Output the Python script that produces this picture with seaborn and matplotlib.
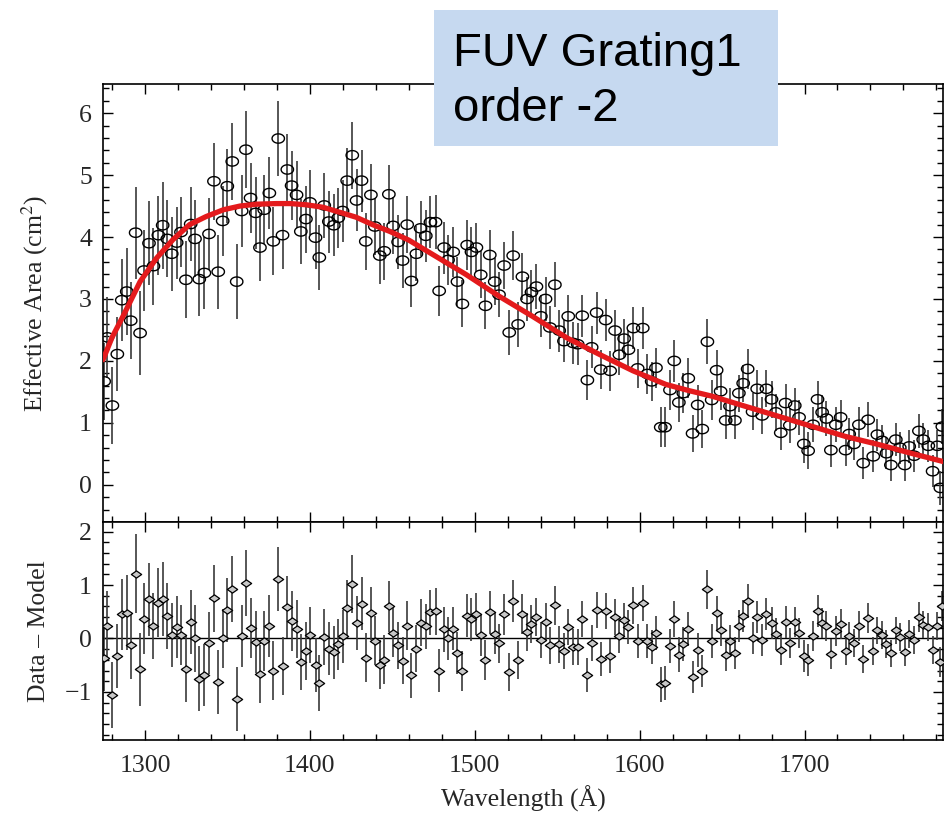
import numpy as np
import pandas as pd
import matplotlib
matplotlib.use("Agg")
import matplotlib.pyplot as plt
from matplotlib.path import Path
from matplotlib.patches import Rectangle
from matplotlib.ticker import MultipleLocator
import seaborn as sns

# ---- measured effective area, FUV grating 1, order -2 ----
wavelength = [
    1275.2, 1277.2, 1280.2, 1283.2, 1285.9, 1288.9, 1291.3, 1294.3, 1297.0, 1299.4,
    1302.4, 1305.1, 1308.1, 1310.7, 1313.5, 1316.2, 1319.2, 1321.8, 1324.8, 1327.7,
    1330.3, 1332.9, 1336.0, 1338.8, 1341.8, 1344.4, 1347.1, 1349.9, 1352.9, 1355.6,
    1358.6, 1361.2, 1364.0, 1367.1, 1369.7, 1372.3, 1375.4, 1377.8, 1380.8, 1383.4,
    1386.3, 1388.9, 1391.9, 1394.5, 1397.6, 1400.0, 1403.4, 1405.7, 1408.7, 1411.5,
    1414.5, 1417.2, 1419.8, 1422.6, 1425.7, 1428.3, 1431.3, 1433.9, 1437.0, 1439.4,
    1442.4, 1445.1, 1447.9, 1450.5, 1453.5, 1456.2, 1459.0, 1461.6, 1464.6, 1467.1,
    1470.3, 1473.1, 1476.2, 1478.4, 1481.4, 1483.8, 1486.9, 1489.5, 1492.5, 1495.4,
    1498.0, 1501.0, 1503.6, 1506.5, 1509.1, 1512.1, 1514.7, 1517.8, 1520.9, 1523.3,
    1526.3, 1528.9, 1531.7, 1534.4, 1537.4, 1540.1, 1542.9, 1545.6, 1548.6, 1551.2,
    1554.1, 1556.7, 1559.7, 1562.4, 1565.2, 1568.3, 1570.9, 1573.9, 1576.4, 1579.4,
    1582.1, 1585.1, 1587.7, 1590.6, 1593.2, 1596.2, 1598.8, 1601.9, 1604.7, 1607.3,
    1609.9, 1612.8, 1615.4, 1618.4, 1621.0, 1623.8, 1626.5, 1629.5, 1632.1, 1635.2,
    1638.0, 1641.1, 1643.7, 1646.7, 1649.1, 1652.2, 1654.8, 1657.8, 1660.2, 1662.8,
    1665.5, 1668.5, 1671.3, 1674.3, 1676.9, 1680.0, 1682.6, 1685.6, 1688.5, 1691.1,
    1694.1, 1696.7, 1699.6, 1702.2, 1705.2, 1707.9, 1710.7, 1713.3, 1716.0, 1719.0,
    1721.9, 1724.9, 1727.1, 1730.0, 1733.0, 1735.6, 1738.6, 1741.7, 1744.2, 1747.1,
    1749.7, 1752.4, 1755.4, 1757.8, 1760.8, 1763.5, 1766.5, 1769.4, 1772.0, 1775.1,
    1777.7, 1780.6, 1782.4, 1783.6,
]

eff_area = [
    1.67, 2.38, 1.28, 2.11, 2.98, 3.12, 2.65, 4.07, 2.45, 3.46,
    3.90, 3.53, 4.03, 4.19, 3.97, 3.73, 3.91, 4.08, 3.31, 4.21,
    3.97, 3.32, 3.42, 4.05, 4.90, 3.44, 4.26, 4.82, 5.22, 3.28,
    4.42, 5.41, 4.63, 4.39, 3.83, 4.44, 4.71, 3.93, 5.59, 4.03,
    5.09, 4.83, 4.68, 4.09, 4.29, 4.56, 3.99, 3.67, 4.51, 4.25,
    4.19, 4.31, 4.42, 4.91, 5.32, 4.59, 4.91, 3.93, 4.68, 4.17,
    3.70, 3.77, 4.69, 4.18, 3.92, 3.62, 4.20, 3.29, 3.73, 4.14,
    4.02, 4.24, 4.24, 3.13, 3.83, 3.63, 3.76, 3.28, 2.92, 3.87,
    3.76, 3.83, 3.39, 2.89, 3.71, 3.28, 3.07, 3.54, 2.46, 3.70,
    2.59, 3.36, 3.00, 3.11, 3.20, 2.72, 3.00, 2.54, 3.23, 2.49,
    2.32, 2.72, 2.29, 2.27, 2.73, 1.69, 2.22, 2.78, 1.86, 2.66,
    1.84, 2.49, 2.10, 2.36, 2.18, 2.53, 1.88, 2.53, 1.79, 1.67,
    1.89, 0.93, 0.93, 1.53, 2.00, 1.33, 1.48, 1.72, 0.83, 1.29,
    0.90, 2.31, 1.37, 1.85, 1.51, 1.04, 1.27, 1.04, 1.48, 1.64,
    1.87, 1.18, 1.55, 1.12, 1.55, 1.38, 1.17, 0.84, 1.32, 0.96,
    1.28, 1.09, 0.66, 0.55, 0.97, 1.38, 1.17, 1.07, 0.56, 0.97,
    1.09, 0.56, 0.82, 0.66, 0.97, 0.35, 1.05, 0.46, 0.81, 0.71,
    0.51, 0.32, 0.73, 0.60, 0.32, 0.62, 0.47, 0.87, 0.73, 0.63,
    0.22, 0.63, -0.05, 0.94,
]

residual = [
    -0.36, 0.24, -1.06, -0.32, 0.45, 0.48, -0.13, 1.21, -0.58, 0.37,
    0.73, 0.24, 0.67, 0.74, 0.42, 0.07, 0.22, 0.06, -0.57, 0.31,
    0.00, -0.75, -0.69, -0.08, 0.75, -0.82, 0.00, 0.54, 0.93, -1.13,
    0.04, 1.04, 0.20, -0.07, -0.67, -0.05, 0.23, -0.60, 1.12, -0.52,
    0.59, 0.32, 0.18, -0.44, -0.24, 0.06, -0.50, -0.83, 0.03, -0.19,
    -0.26, -0.11, 0.04, 0.57, 1.02, 0.29, 0.65, -0.36, 0.47, -0.04,
    -0.49, -0.40, 0.60, 0.11, -0.13, -0.42, 0.24, -0.69, -0.19, 0.29,
    0.23, 0.49, 0.51, -0.60, 0.17, 0.00, 0.18, -0.27, -0.61, 0.43,
    0.36, 0.46, 0.06, -0.40, 0.49, 0.09, -0.09, 0.45, -0.63, 0.70,
    -0.40, 0.46, 0.12, 0.27, 0.40, -0.03, 0.31, -0.13, 0.62, -0.11,
    -0.24, 0.22, -0.16, -0.16, 0.37, -0.69, -0.08, 0.53, -0.39, 0.51,
    -0.33, 0.40, 0.04, 0.34, 0.21, 0.62, -0.05, 0.67, -0.05, -0.16,
    0.11, -0.86, -0.83, -0.14, 0.37, -0.30, -0.10, 0.17, -0.72, -0.22,
    -0.61, 0.92, -0.05, 0.47, 0.16, -0.30, -0.05, -0.27, 0.23, 0.42,
    0.70, 0.01, 0.40, -0.02, 0.45, 0.29, 0.09, -0.22, 0.31, -0.08,
    0.31, 0.11, -0.32, -0.40, 0.04, 0.51, 0.29, 0.23, -0.29, 0.14,
    0.27, -0.24, 0.04, -0.09, 0.24, -0.39, 0.39, -0.24, 0.15, 0.06,
    -0.11, -0.28, 0.15, 0.03, -0.26, 0.09, -0.03, 0.40, 0.26, 0.22,
    -0.21, 0.24, -0.44, 0.60,
]

sigma = [
    0.62, 0.65, 0.62, 0.60, 0.66, 0.70, 0.62, 0.74, 0.68, 0.66,
    0.68, 0.62, 0.64, 0.70, 0.62, 0.60, 0.58, 0.56, 0.62, 0.60,
    0.62, 0.60, 0.58, 0.58, 0.62, 0.60, 0.56, 0.60, 0.62, 0.60,
    0.58, 0.62, 0.56, 0.58, 0.54, 0.56, 0.58, 0.55, 0.60, 0.54,
    0.58, 0.56, 0.54, 0.52, 0.54, 0.52, 0.50, 0.52, 0.52, 0.50,
    0.50, 0.48, 0.50, 0.52, 0.54, 0.50, 0.50, 0.46, 0.50, 0.46,
    0.46, 0.46, 0.48, 0.46, 0.44, 0.44, 0.46, 0.42, 0.44, 0.44,
    0.42, 0.42, 0.44, 0.40, 0.42, 0.40, 0.40, 0.40, 0.38, 0.40,
    0.40, 0.40, 0.38, 0.38, 0.40, 0.38, 0.36, 0.38, 0.36, 0.40,
    0.36, 0.38, 0.36, 0.36, 0.36, 0.34, 0.36, 0.34, 0.36, 0.34,
    0.34, 0.34, 0.34, 0.34, 0.34, 0.32, 0.34, 0.34, 0.32, 0.34,
    0.32, 0.34, 0.32, 0.32, 0.32, 0.34, 0.32, 0.34, 0.32, 0.32,
    0.32, 0.32, 0.32, 0.32, 0.34, 0.32, 0.32, 0.32, 0.30, 0.32,
    0.30, 0.36, 0.32, 0.32, 0.30, 0.30, 0.30, 0.30, 0.30, 0.30,
    0.32, 0.30, 0.30, 0.30, 0.30, 0.30, 0.30, 0.28, 0.30, 0.28,
    0.28, 0.28, 0.30, 0.30, 0.28, 0.30, 0.28, 0.28, 0.28, 0.28,
    0.28, 0.26, 0.26, 0.26, 0.28, 0.26, 0.28, 0.26, 0.26, 0.26,
    0.26, 0.26, 0.26, 0.26, 0.26, 0.26, 0.26, 0.28, 0.26, 0.26,
    0.26, 0.26, 0.28, 0.28,
]

# ---- fitted model curve ----
model_wave = [1274.5, 1280, 1287, 1297, 1307, 1317, 1327, 1337, 1347.5, 1357.6,
              1367.7, 1379.8, 1388, 1398, 1408, 1418, 1428, 1438, 1448.5, 1460,
              1475, 1495, 1515, 1535, 1556, 1576, 1596, 1616, 1630, 1644,
              1665, 1685, 1705, 1725, 1745, 1766, 1785]
model_area = [2.02, 2.38, 2.74, 3.28, 3.66, 3.96, 4.20, 4.33, 4.44, 4.50,
              4.53, 4.54, 4.54, 4.52, 4.48, 4.40, 4.32, 4.20, 4.09, 3.95,
              3.71, 3.39, 3.04, 2.72, 2.37, 2.10, 1.84, 1.62, 1.52, 1.43,
              1.26, 1.10, 0.94, 0.78, 0.65, 0.50, 0.37]

x_ticks = [1300, 1400, 1500, 1600, 1700]
area_ticks = [0, 1, 2, 3, 4, 5, 6]
resid_ticks = [-1, 0, 1, 2]

data = pd.DataFrame({"wavelength": wavelength, "area": eff_area,
                     "resid": residual, "sigma": sigma})
model = pd.DataFrame({"wavelength": model_wave, "area": model_area})

sns.set_theme(style="ticks")
plt.rcParams["font.family"] = ["Liberation Serif", "DejaVu Serif"]
plt.rcParams["mathtext.fontset"] = "stix"

W, H = 945, 813
fig = plt.figure(figsize=(W / 100, H / 100), dpi=100)
fig.patch.set_facecolor("white")

left, right = 103, 943
ax_top = fig.add_axes([left / W, 1 - 522 / H, (right - left) / W, (522 - 84) / H])
ax_res = fig.add_axes([left / W, 1 - 740 / H, (right - left) / W, (740 - 522) / H],
                      sharex=ax_top)

# marker shapes: wide ellipse for the data, flat diamond for residuals
t = np.linspace(0, 2 * np.pi, 40)
ellipse = Path(np.column_stack([np.cos(t), 0.75 * np.sin(t)]))
diamond = Path([(-1, 0), (0, 0.7), (1, 0), (0, -0.7), (-1, 0)],
               [Path.MOVETO, Path.LINETO, Path.LINETO, Path.LINETO, Path.CLOSEPOLY])

bar_kw = dict(fmt="none", ecolor="#3a3a3a", elinewidth=1.2, capsize=0, zorder=2)

# upper panel: effective area with model
ax_top.errorbar(data["wavelength"], data["area"], yerr=data["sigma"], **bar_kw)
sns.scatterplot(data=data, x="wavelength", y="area", ax=ax_top, marker=ellipse,
                s=80, facecolor="none", edgecolor="black", linewidth=1.0, zorder=3)
sns.lineplot(data=model, x="wavelength", y="area", ax=ax_top, sort=False,
             estimator=None, color="#e41a1c", linewidth=3.8, zorder=4)

# lower panel: residuals
ax_res.axhline(0, color="black", linewidth=1.0, zorder=1)
ax_res.errorbar(data["wavelength"], data["resid"], yerr=data["sigma"], **bar_kw)
sns.scatterplot(data=data, x="wavelength", y="resid", ax=ax_res, marker=diamond,
                s=55, facecolor="#c8c8c8", edgecolor="black", linewidth=0.9, zorder=3)

ax_top.set_xlim(1274.5, 1784.0)
ax_top.set_ylim(-0.6, 6.47)
ax_res.set_ylim(-1.90, 2.18)

for ax in (ax_top, ax_res):
    ax.xaxis.set_major_locator(MultipleLocator(100))
    ax.xaxis.set_minor_locator(MultipleLocator(20))
    ax.yaxis.set_minor_locator(MultipleLocator(0.2))
    ax.tick_params(which="both", direction="in", top=True, right=True,
                   color="black", width=1.0)
    ax.tick_params(which="major", length=7, labelsize=18.5, pad=8)
    ax.tick_params(which="minor", length=4)
    for sp in ax.spines.values():
        sp.set_color("black")
        sp.set_linewidth(1.2)
    ax.set_xlabel("")
    ax.set_ylabel("")

ax_top.set_xticks(x_ticks)
ax_top.set_yticks(area_ticks)
ax_res.set_yticks(resid_ticks)
ax_res.set_yticklabels(["\u22121", "0", "1", "2"])
ax_top.tick_params(labelbottom=False)
ax_res.tick_params(axis="x", which="major", pad=11)

ax_top.set_ylabel("Effective Area (cm$^2$)", fontsize=18.5)
ax_res.set_ylabel("Data \u2013 Model", fontsize=18.5)
ax_res.set_xlabel("Wavelength (\u00c5)", fontsize=18.5, labelpad=6)
ax_top.yaxis.set_label_coords(-0.063, 0.5)
ax_res.yaxis.set_label_coords(-0.063, 0.5)

# annotation box
fig.patches.append(Rectangle((434 / W, 1 - 146 / H), (778 - 434) / W, (146 - 10) / H,
                             transform=fig.transFigure, facecolor="#c6d9f0",
                             edgecolor="none", zorder=5))
fig.text(453 / W, 1 - 66 / H, "FUV Grating1", fontsize=34, family="Liberation Sans",
         va="baseline", ha="left", color="black", zorder=6)
fig.text(453 / W, 1 - 121 / H, "order -2", fontsize=34, family="Liberation Sans",
         va="baseline", ha="left", color="black", zorder=6)

fig.savefig("out.png", dpi=100, facecolor="white")
